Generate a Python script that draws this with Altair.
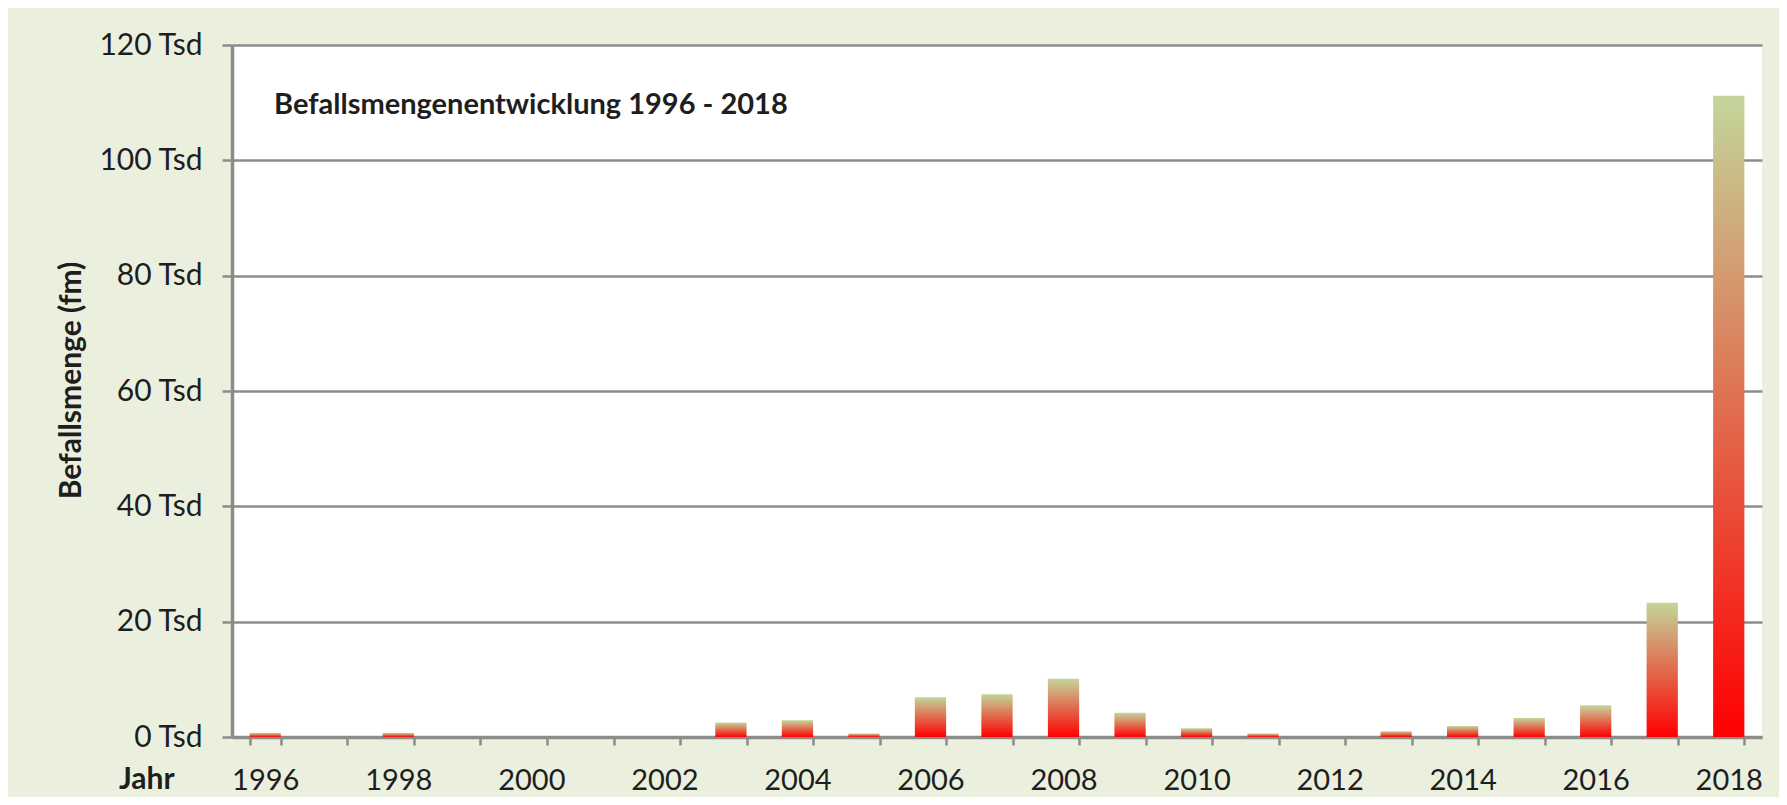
import altair as alt
import pandas as pd

# ---- data (in thousand fm) ----
years = list(range(1996, 2019))
befall_tsd = [0.7, 0.0, 0.7, 0.0, 0.0, 0.0, 0.0, 2.5, 2.9, 0.6, 6.9, 7.4,
              10.1, 4.2, 1.5, 0.6, 0.0, 1.0, 1.9, 3.3, 5.5, 23.3, 111.2]
y_ticks = [0, 20, 40, 60, 80, 100, 120]
title_text = ["Befallsmengenentwicklung 1996 - 2018"]
y_title = "Befallsmenge (fm)"
x_title = ["Jahr"]

df = pd.DataFrame({"Jahr": years, "Befall": befall_tsd})

FONT = "Lato"
TXT = "#1e1e1e"
GRID = "#8C8C8C"

grad = alt.LinearGradient(
    gradient="linear",
    stops=[alt.GradientStop(color="#FF0000", offset=0),
           alt.GradientStop(color="#C3D69B", offset=1)],
    x1=0, x2=0, y1=1, y2=0,
)

bars = alt.Chart(df).mark_bar(color=grad).encode(
    x=alt.X(
        "Jahr:O",
        scale=alt.Scale(paddingInner=0.53, paddingOuter=0.265),
        axis=alt.Axis(
            title=None,
            labelAngle=0,
            labelExpr="toNumber(datum.value) % 2 == 0 ? datum.label : ''",
            tickBand="extent",
            tickSize=8,
            tickWidth=2.5,
            tickColor=GRID,
            domainColor=GRID,
            domainWidth=3.5,
            labelFont=FONT,
            labelFontSize=29,
            labelColor=TXT,
            labelBaseline="middle",
            labelPadding=35,
            labelOverlap=False,
            grid=False,
        ),
    ),
    y=alt.Y(
        "Befall:Q",
        scale=alt.Scale(domain=[0, 120], nice=False),
        axis=alt.Axis(
            values=y_ticks,
            labelExpr="datum.value + ' Tsd'",
            title=y_title,
            titleFont=FONT,
            titleFontSize=30,
            titleFontWeight="bold",
            titleColor=TXT,
            titleAngle=270,
            titleAlign="center",
            titleBaseline="middle",
            titleX=-161,
            titleY=335,
            tickSize=10,
            tickWidth=2.5,
            tickColor=GRID,
            domainColor=GRID,
            domainWidth=3.5,
            labelFont=FONT,
            labelFontSize=30,
            labelColor=TXT,
            labelPadding=20,
            grid=True,
            gridColor=GRID,
            gridWidth=2.5,
        ),
    ),
)

title_layer = alt.Chart(pd.DataFrame({"t": title_text})).mark_text(
    align="left", baseline="middle", font=FONT, fontSize=29,
    fontWeight="bold", color=TXT,
).encode(x=alt.value(42), y=alt.value(60), text="t:N")

jahr_layer = alt.Chart(pd.DataFrame({"t": x_title})).mark_text(
    align="left", baseline="middle", font=FONT, fontSize=30,
    fontWeight="bold", color=TXT,
).encode(x=alt.value(-113), y=alt.value(735), text="t:N")

chart = alt.layer(bars, title_layer, jahr_layer).properties(
    width=1530,
    height=692,
    autosize=alt.AutoSizeParams(type="none"),
    padding={"left": 224, "top": 37, "right": 17, "bottom": 60},
    background="#EBF0DE",
).configure_view(fill="white", strokeWidth=0)

chart.save("out.html", embed_options={"renderer": "svg", "actions": False})
